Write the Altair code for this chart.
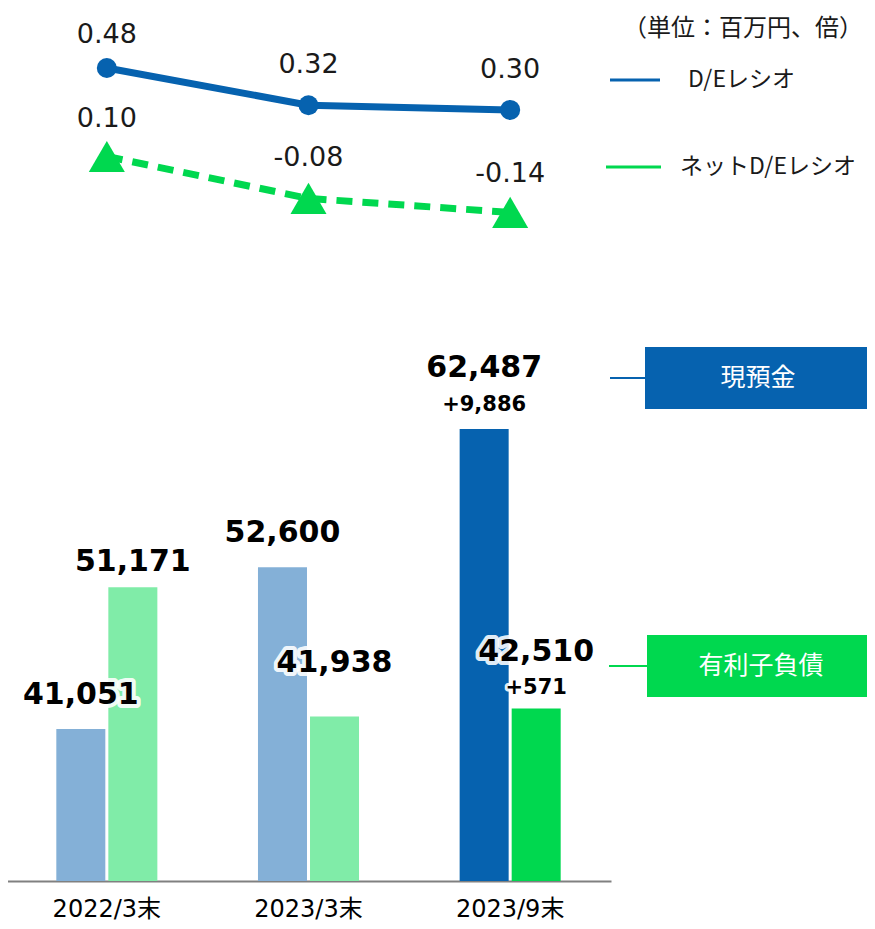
import altair as alt
import pandas as pd

# ---------------- data ----------------
periods = ["2022/3末", "2023/3末", "2023/9末"]
de_ratio = [0.48, 0.32, 0.30]
net_de_ratio = [0.10, -0.08, -0.14]
cash = [41051, 52600, 62487]
debt = [51171, 41938, 42510]
cash_delta = ["", "", "+9,886"]
debt_delta = ["", "", "+571"]
series_names = ["現預金", "有利子負債"]
line_names = ["D/Eレシオ", "ネットD/Eレシオ"]
unit_text = "（単位：百万円、倍）"

# ---------------- styling ----------------
M = 8  # page margin (image px -> plot px)
C_CASH_PREV = "#84B0D7"
C_DEBT_PREV = "#80ECA8"
C_CASH_CUR = "#0662AF"
C_DEBT_CUR = "#00D84F"
NUM_FONT = "DejaVu Sans"
JP_FONT = "Noto Sans CJK JP"

BAR_BASE = 30190
bar_scale = alt.Scale(domain=[BAR_BASE, max(cash + debt)], range=[873, 421], nice=False, zero=False)
line_scale = alt.Scale(domain=[-0.2, 0.5], range=[218.4, 55.3], nice=False, zero=False)

# tables
bars_df = pd.DataFrame({
    "period": periods * 2,
    "series": [series_names[0]] * 3 + [series_names[1]] * 3,
    "value": cash + debt,
    "delta": cash_delta + debt_delta,
})
bars_df["key"] = [
    ("cash" if s == series_names[0] else "debt") + ("_cur" if p == periods[-1] else "_prev")
    for p, s in zip(bars_df["period"], bars_df["series"])
]
lines_df = pd.DataFrame({
    "period": periods * 2,
    "name": [line_names[0]] * 3 + [line_names[1]] * 3,
    "value": de_ratio + net_de_ratio,
})
lines_df["label"] = [f"{v:.2f}" for v in lines_df["value"]]

x_enc = alt.X(
    "period:N", sort=periods,
    scale=alt.Scale(domain=periods, range=[-2, 603], paddingInner=0, paddingOuter=0),
    axis=alt.Axis(title=None, labelFontSize=24, labelFont=f"{NUM_FONT}, {JP_FONT}",
                  labelColor="#000000", ticks=False, domainColor="#808080", domainWidth=2,
                  labelPadding=16, labelAngle=0, grid=False),
)
xoff_enc = alt.XOffset("series:N", sort=series_names,
                       scale=alt.Scale(domain=series_names, paddingInner=0.058, paddingOuter=0.967))
yb = alt.Y("value:Q", scale=bar_scale, axis=None)
yl = alt.Y("value:Q", scale=line_scale, axis=None)

layers = []

# bars
layers.append(
    alt.Chart(bars_df).mark_bar().encode(
        x=x_enc, xOffset=xoff_enc, y=yb, y2=alt.datum(BAR_BASE),
        color=alt.Color("key:N", legend=None, scale=alt.Scale(
            domain=["cash_prev", "debt_prev", "cash_cur", "debt_cur"],
            range=[C_CASH_PREV, C_DEBT_PREV, C_CASH_CUR, C_DEBT_CUR])),
    )
)

# bar value labels (with white halo)
cash_label_dy = [-34, -34, -61]
debt_label_dy = [-25, -54, -57]
cash_delta_dy = [0, 0, -24]
debt_delta_dy = [0, 0, -21]
for s, dys, ddys in [(series_names[0], cash_label_dy, cash_delta_dy),
                     (series_names[1], debt_label_dy, debt_delta_dy)]:
    for p, dy, ddy in zip(periods, dys, ddys):
        base = alt.Chart(bars_df).transform_filter(
            (alt.datum.period == p) & (alt.datum.series == s))
        enc = dict(x=x_enc, xOffset=xoff_enc, y=yb)
        layers.append(base.mark_text(font=NUM_FONT, fontSize=30, fontWeight="bold", dy=dy,
                                     baseline="middle", stroke="white", strokeWidth=8,
                                     strokeJoin="round", fill="white", strokeOpacity=0.9)
                      .encode(text=alt.Text("value:Q", format=",.0f"), **enc))
        layers.append(base.mark_text(font=NUM_FONT, fontSize=30, fontWeight="bold", dy=dy,
                                     baseline="middle", fill="#000000")
                      .encode(text=alt.Text("value:Q", format=",.0f"), **enc))
        if ddy:
            layers.append(base.mark_text(font=NUM_FONT, fontSize=21, fontWeight="bold", dy=ddy,
                                         baseline="middle", stroke="white", strokeWidth=6,
                                         strokeJoin="round", fill="white", strokeOpacity=0.9)
                          .encode(text="delta:N", **enc))
            layers.append(base.mark_text(font=NUM_FONT, fontSize=21, fontWeight="bold", dy=ddy,
                                         baseline="middle", fill="#000000")
                          .encode(text="delta:N", **enc))

# lines
de_base = alt.Chart(lines_df).transform_filter(alt.datum.name == line_names[0])
net_base = alt.Chart(lines_df).transform_filter(alt.datum.name == line_names[1])
layers.append(de_base.mark_line(color=C_CASH_CUR, strokeWidth=7).encode(x=x_enc, y=yl))
layers.append(de_base.mark_point(shape="circle", filled=True, size=400, opacity=1,
                                 color=C_CASH_CUR).encode(x=x_enc, y=yl))
layers.append(net_base.mark_line(color=C_DEBT_CUR, strokeWidth=7, strokeDash=[16, 10])
              .encode(x=x_enc, y=yl))
layers.append(net_base.mark_point(shape="triangle-up", filled=True, size=1300, opacity=1,
                                  color=C_DEBT_CUR).encode(x=x_enc, y=yl))

de_label_dy = [-33, -40, -40]
net_label_dy = [-38, -40, -38]
for base, dys in [(de_base, de_label_dy), (net_base, net_label_dy)]:
    for p, dy in zip(periods, dys):
        layers.append(
            base.transform_filter(alt.datum.period == p)
            .mark_text(font=NUM_FONT, fontSize=27, dy=dy, baseline="middle", fill="#1a1a1a")
            .encode(x=x_enc, y=yl, text="label:N")
        )


# ---------------- annotations (legend, unit, boxes) ----------------
def one(t):
    return alt.Chart(pd.DataFrame({"t": [t]}))


def txt(t, x, y, size, color="#1a1a1a", align="left", font=JP_FONT):
    return one(t).mark_text(font=font, fontSize=size, align=align, baseline="middle",
                            fill=color).encode(x=alt.value(x - M), y=alt.value(y - M), text="t:N")


def hline(x1, x2, y, color, w):
    return one("").mark_rule(color=color, strokeWidth=w).encode(
        x=alt.value(x1 - M), x2=alt.value(x2 - M), y=alt.value(y - M))


def box(x1, x2, y1, y2, color):
    return one("").mark_rect(color=color).encode(
        x=alt.value(x1 - M), x2=alt.value(x2 - M), y=alt.value(y1 - M), y2=alt.value(y2 - M))


layers += [
    txt(unit_text, 743, 29, 24, align="center"),
    hline(610, 660, 80, C_CASH_CUR, 3),
    txt(line_names[0], 688, 80, 23),
    hline(606, 661, 167, C_DEBT_CUR, 3),
    txt(line_names[1], 680, 167, 23),
    hline(610, 646, 378, C_CASH_CUR, 2),
    box(645, 875, 347, 409, C_CASH_CUR),
    txt(series_names[0], 758, 378, 25, color="white", align="center"),
    hline(609, 648, 666, C_DEBT_CUR, 2),
    box(647, 875, 635, 697, C_DEBT_CUR),
    txt(series_names[1], 761, 666, 25, color="white", align="center"),
]

chart = (
    alt.layer(*layers)
    .resolve_scale(y="independent")
    .properties(width=859, height=873, autosize=alt.AutoSizeParams(type="none"),
                padding={"left": 0, "top": 0, "right": 0, "bottom": 40})
    .configure_view(stroke=None)
)

chart.save("out.html", embed_options={"renderer": "svg", "actions": False})
